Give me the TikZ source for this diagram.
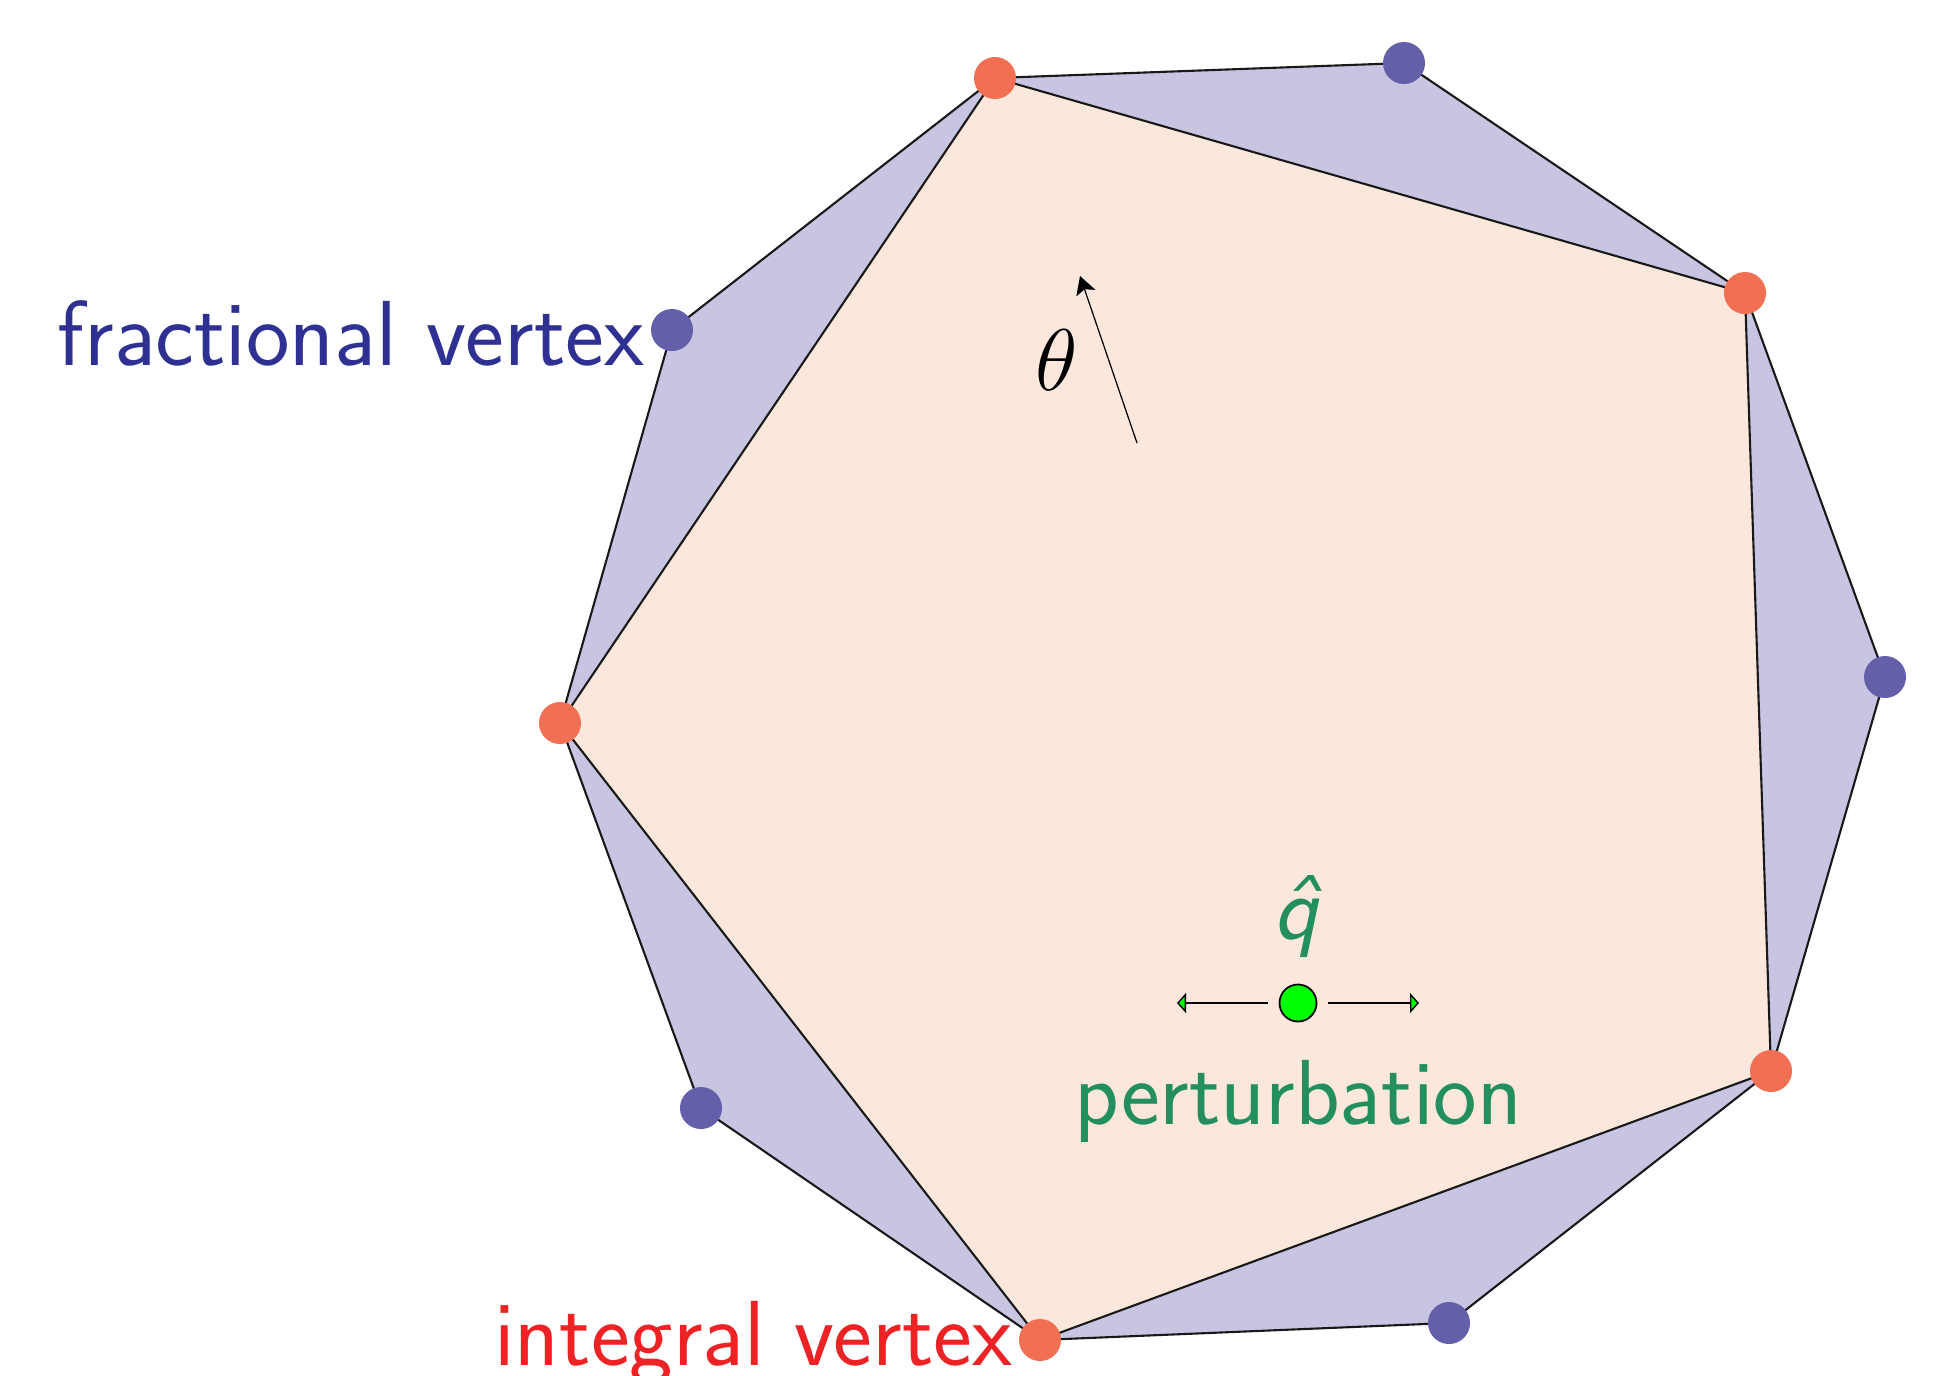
\documentclass[tikz,border=0pt]{standalone}
\usepackage{xcolor}
\usepackage{tikz}
\usetikzlibrary{arrows.meta,positioning}

\definecolor{fracfill}{HTML}{C7C5E1}
\definecolor{intfill}{HTML}{FCE7DC}
\definecolor{intdotcol}{HTML}{F17053}
\definecolor{fracdotcol}{HTML}{635FA8}
\definecolor{fractext}{HTML}{2E3192}
\definecolor{inttext}{HTML}{ED2224}
\definecolor{perttext}{HTML}{238E5E}

\begin{document}
\begin{tikzpicture}[
  x=0.01cm, y=-0.01cm,
  >=Stealth,
  intdot/.style={circle, fill=intdotcol, inner sep=0pt, minimum size=0.42cm},
  fracdot/.style={circle, fill=fracdotcol, inner sep=0pt, minimum size=0.42cm},
  bigtext/.style={font=\fontsize{26.3}{31}\selectfont\sffamily, inner sep=1.5pt},
  edge/.style={draw=black!90, line width=0.6pt},
  pert/.style={-{Triangle[length=0.09cm, width=0.2cm, fill=green]}, line width=0.4pt},
]
\useasboundingbox (0,0) rectangle (1948,1375);

% vertices
\coordinate (i1) at (995,78);
\coordinate (f1) at (1404,63);
\coordinate (i2) at (1745,293);
\coordinate (f2) at (1885,677);
\coordinate (i3) at (1771,1071);
\coordinate (f3) at (1449,1323);
\coordinate (i4) at (1040,1340);
\coordinate (f4) at (701,1108);
\coordinate (i5) at (560,723);
\coordinate (f5) at (672,330);

% outer polytope and integral hull
\path[edge, fill=fracfill] (i1) -- (f1) -- (i2) -- (f2) -- (i3) -- (f3) -- (i4) -- (f4) -- (i5) -- (f5) -- cycle;
\path[edge, fill=intfill] (i1) -- (i2) -- (i3) -- (i4) -- (i5) -- cycle;

\foreach \v in {i1,i2,i3,i4,i5}
  \node[intdot] (d-\v) at (\v) {};
\foreach \v in {f1,f2,f3,f4,f5}
  \node[fracdot] (d-\v) at (\v) {};

% labels
\node[bigtext, text=fractext, anchor=east] (fraclbl) at ([yshift=-0.03cm]d-f5.west) {fractional vertex};
\node[bigtext, text=inttext, anchor=east] (intlbl) at ([yshift=-0.03cm]d-i4.west) {integral vertex};

% objective direction
\coordinate (th-s) at (1137,443);
\coordinate (th-e) at (1080,276);
\draw[-{Stealth[length=0.18cm, width=0.2cm, inset=0.04cm]}, line width=0.35pt] (th-s) -- (th-e);
\node[font=\fontsize{27}{31}\selectfont] (theta) at (1057,360) {$\theta$};

% perturbation
\node[circle, draw=black, fill=green, line width=0.5pt, inner sep=0pt, minimum size=0.37cm] (qdot) at (1298,1003) {};
\node[bigtext, text=perttext] (qlbl) at (1298,916) {\textsl{\^q}};
\node[bigtext, text=perttext, anchor=base] (pertlbl) at (1298,1124) {perturbation};
\coordinate (pl) at (1177,1003);
\coordinate (pr) at (1419,1003);
\draw[pert] ([xshift=-0.11cm]qdot.west) -- (pl);
\draw[pert] ([xshift=0.11cm]qdot.east) -- (pr);

\end{tikzpicture}
\end{document}
